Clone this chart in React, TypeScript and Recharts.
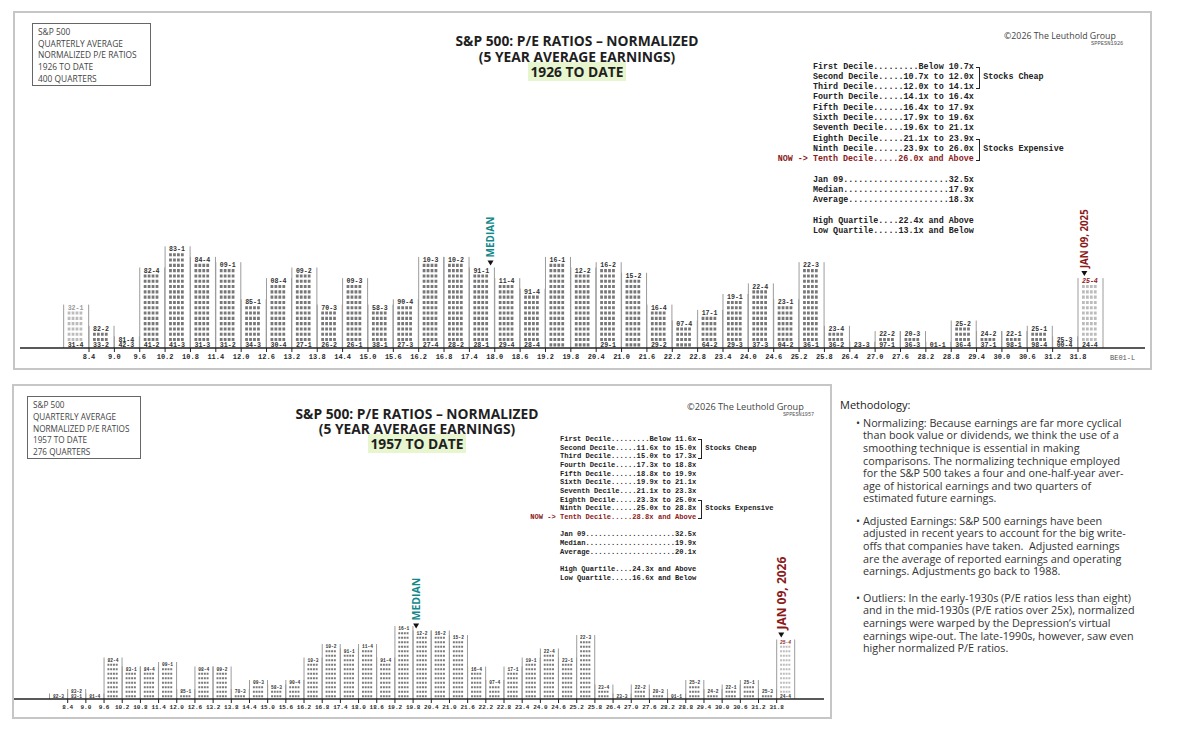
import React from 'react';
import { BarChart, Bar, XAxis, YAxis, ReferenceDot } from 'recharts';

// bin lower edges (P/E), each bin is 0.6 wide
const binStart = [7.8, 8.4, 9.0, 9.6, 10.2, 10.8, 11.4, 12.0, 12.6, 13.2, 13.8, 14.4, 15.0, 15.6, 16.2, 16.8, 17.4, 18.0, 18.6, 19.2, 19.8, 20.4, 21.0, 21.6, 22.2, 22.8, 23.4, 24.0, 24.6, 25.2, 25.8, 26.4, 27.0, 27.6, 28.2, 28.8, 29.4, 30.0, 30.6, 31.2, 31.8];
const tickValues = [8.4, 9.0, 9.6, 10.2, 10.8, 11.4, 12.0, 12.6, 13.2, 13.8, 14.4, 15.0, 15.6, 16.2, 16.8, 17.4, 18.0, 18.6, 19.2, 19.8, 20.4, 21.0, 21.6, 22.2, 22.8, 23.4, 24.0, 24.6, 25.2, 25.8, 26.4, 27.0, 27.6, 28.2, 28.8, 29.4, 30.0, 30.6, 31.2, 31.8];

// quarters per bin
const counts1926 = [8, 4, 2, 15, 19, 17, 16, 9, 13, 15, 8, 13, 8, 9, 17, 17, 15, 13, 11, 17, 15, 16, 14, 8, 5, 7, 10, 12, 9, 16, 4, 1, 3, 3, 1, 5, 3, 3, 4, 2, 13];
const counts1957 = [1, 2, 1, 9, 7, 7, 8, 2, 7, 7, 2, 4, 3, 4, 9, 12, 11, 12, 9, 16, 15, 15, 14, 7, 4, 7, 9, 11, 9, 14, 3, 1, 3, 2, 1, 4, 2, 3, 4, 2, 13];

// quarter codes printed at the top / bottom of each column
const topLabels1926 = ['32-1', '82-2', '81-4', '82-4', '83-1', '84-4', '09-1', '85-1', '08-4', '09-2', '70-3', '09-3', '58-3', '90-4', '10-3', '10-2', '91-1', '11-4', '91-4', '16-1', '12-2', '16-2', '15-2', '16-4', '07-4', '17-1', '19-1', '22-4', '23-1', '22-3', '23-4', '23-3', '22-2', '20-3', '01-1', '25-2', '24-2', '22-1', '25-1', '25-3', '25-4'];
const bottomLabels1926 = ['31-4', '33-2', '42-3', '41-2', '41-3', '31-3', '31-2', '34-3', '30-4', '27-1', '26-2', '26-1', '38-1', '27-3', '27-4', '28-2', '28-1', '29-4', '28-4', null, null, '29-1', null, '29-2', null, '64-2', '29-3', '37-3', '04-2', '36-1', '36-2', null, '97-1', '36-3', null, '36-4', '37-1', '98-1', '98-4', '00-4', '24-4'];
const topLabels1957 = ['82-3', '83-2', '81-4', '82-4', '83-1', '84-4', '09-1', '85-1', '08-4', '09-2', '70-3', '09-3', '58-3', '90-4', '10-3', '10-2', '91-1', '11-4', '91-4', '16-1', '12-2', '16-2', '15-2', '16-4', '07-4', '17-1', '19-1', '22-4', '23-1', '22-3', '23-4', '23-3', '22-2', '20-3', '01-1', '25-2', '24-2', '22-1', '25-1', '25-3', '25-4'];
const bottomLabels1957 = [null, '83-1', null, null, null, null, null, null, null, null, null, null, null, null, null, null, null, null, null, null, null, null, null, null, null, null, null, null, null, null, null, null, null, null, null, null, null, null, null, null, '24-4'];

const median1926 = 17.9;
const median1957 = 19.9;
const nowMarkX = 31.95;

const decile1926 = [
  'First Decile.........Below 10.7x',
  'Second Decile.....10.7x to 12.0x',
  'Third Decile......12.0x to 14.1x',
  'Fourth Decile.....14.1x to 16.4x',
  'Fifth Decile......16.4x to 17.9x',
  'Sixth Decile......17.9x to 19.6x',
  'Seventh Decile....19.6x to 21.1x',
  'Eighth Decile.....21.1x to 23.9x',
  'Ninth Decile......23.9x to 26.0x',
  'Tenth Decile.....26.0x and Above',
  '',
  'Jan 09.....................32.5x',
  'Median.....................17.9x',
  'Average....................18.3x',
  '',
  'High Quartile....22.4x and Above',
  'Low Quartile.....13.1x and Below',
];
const decile1957 = [
  'First Decile.........Below 11.6x',
  'Second Decile.....11.6x to 15.0x',
  'Third Decile......15.0x to 17.3x',
  'Fourth Decile.....17.3x to 18.8x',
  'Fifth Decile......18.8x to 19.9x',
  'Sixth Decile......19.9x to 21.1x',
  'Seventh Decile....21.1x to 23.3x',
  'Eighth Decile.....23.3x to 25.0x',
  'Ninth Decile......25.0x to 28.8x',
  'Tenth Decile.....28.8x and Above',
  '',
  'Jan 09.....................32.5x',
  'Median.....................19.9x',
  'Average....................20.1x',
  '',
  'High Quartile....24.3x and Above',
  'Low Quartile.....16.6x and Below',
];

const methodology = [
  ['Normalizing: Because earnings are far more cyclical', 'than book value or dividends, we think the use of a', 'smoothing technique is essential in making', 'comparisons. The normalizing technique employed', 'for the S&P 500 takes a four and one-half-year aver-', 'age of historical earnings and two quarters of', 'estimated future earnings.'],
  ['Adjusted Earnings: S&P 500 earnings have been', 'adjusted in recent years to account for the big write-', 'offs that companies have taken.  Adjusted earnings', 'are the average of reported earnings and operating', 'earnings. Adjustments go back to 1988.'],
  ['Outliers: In the early-1930s (P/E ratios less than eight)', 'and in the mid-1930s (P/E ratios over 25x), normalized', 'earnings were warped by the Depression\u2019s virtual', 'earnings wipe-out. The late-1990s, however, saw even', 'higher normalized P/E ratios.'],
];

const sans = '"Open Sans", "Noto Sans", sans-serif';
const mono = '"Liberation Mono", "DejaVu Sans Mono", monospace';
const RED = '#8b1a1a';
const TEAL = '#12888a';

const build = (counts: number[], tops: string[], bottoms: (string | null)[]) =>
  binStart.map((s, i) => ({ mid: s + 0.3, count: counts[i], top: tops[i], bottom: bottoms[i], idx: i }));

const data1926 = build(counts1926, topLabels1926, bottomLabels1926);
const data1957 = build(counts1957, topLabels1957, bottomLabels1957);

const countAt = (counts: number[], v: number) => {
  const i = binStart.findIndex((s) => v >= s && v < s + 0.6);
  return counts[i < 0 ? counts.length - 1 : i];
};

type ColCfg = { pitch: number; fs: number; pad: number; faded: number[]; nowIdx: number };

const makeColumn = (cfg: ColCfg) => (props: any) => {
  const { x, width, payload } = props;
  const baseY = props.y + props.height;
  const n = payload.count;
  const cw = cfg.fs * 0.6;
  const capH = cfg.fs * 0.62;
  const tx = x + cfg.pad;
  const faded = cfg.faded.includes(payload.idx);
  const topY = baseY - n * cfg.pitch - 1;
  const rows = [];
  for (let i = 0; i < n; i++) {
    const cy = baseY - (i + 0.5) * cfg.pitch - 0.5;
    const isTop = i === n - 1;
    const isBottom = i === 0;
    const label = isTop ? payload.top : isBottom ? payload.bottom : null;
    if (label) {
      const isNow = isTop && payload.idx === cfg.nowIdx;
      rows.push(
        <text key={i} x={tx} y={cy + capH / 2} fontSize={cfg.fs} fontFamily={mono} fontWeight={700}
          fontStyle={isNow ? 'italic' : 'normal'}
          fill={isNow ? RED : faded && isTop ? '#9a9a9a' : '#333'}>
          {label}
        </text>
      );
    } else {
      rows.push(
        <line key={i} x1={tx} x2={tx + cw * 4 - cw * 0.2} y1={cy} y2={cy}
          stroke={faded ? '#b0b0b0' : '#606060'} strokeOpacity={0.85} strokeWidth={capH * 0.75}
          strokeDasharray={`${cw * 0.7} ${cw * 0.3}`} />
      );
    }
  }
  return (
    <g>
      <line x1={x} x2={x} y1={baseY} y2={topY} stroke="#9c9c9c" strokeWidth={1} />
      <line x1={x + width} x2={x + width} y1={baseY} y2={topY} stroke="#9c9c9c" strokeWidth={1} />
      {rows}
    </g>
  );
};

const marker = (text: string, color: string, fs: number) => (props: any) => {
  const { cx, cy } = props;
  return (
    <g>
      <path d={`M${cx - 3},${cy - 8} L${cx + 3},${cy - 8} L${cx},${cy - 3} Z`} fill="#111" />
      <text transform={`translate(${cx + fs * 0.36}, ${cy - 11}) rotate(-90)`} fontSize={fs}
        fontFamily={sans} fontWeight={700} fill={color}>
        {text}
      </text>
    </g>
  );
};

function Line({ x, y, lh, fs, children, style }: any) {
  return (
    <div style={{ position: 'absolute', left: x, top: y - lh / 2, height: lh, lineHeight: `${lh}px`, fontSize: fs, whiteSpace: 'pre', ...style }}>
      {children}
    </div>
  );
}

function InfoBox({ x, y, w, h, lines, pitch, fs }: any) {
  return (
    <div style={{ position: 'absolute', left: x, top: y, width: w, height: h, border: '1px solid #666', boxSizing: 'border-box', padding: '2px 0 0 5px', fontFamily: sans, fontSize: fs, color: '#444', lineHeight: `${pitch}px` }}>
      {lines.map((l: string, i: number) => <div key={i} style={{ whiteSpace: 'nowrap' }}>{l}</div>)}
    </div>
  );
}

function Title({ cx, y0, pitch, fs, period }: any) {
  return (
    <div style={{ position: 'absolute', left: cx - 200, width: 400, top: y0 - pitch / 2, textAlign: 'center', fontFamily: sans, fontWeight: 700, fontSize: fs, lineHeight: `${pitch}px`, color: '#1f1f1f' }}>
      <div>S&amp;P 500: P/E RATIOS – NORMALIZED</div>
      <div>(5 YEAR AVERAGE EARNINGS)</div>
      <div><span style={{ background: '#e7f6cf', padding: '0 2px' }}>{period}</span></div>
    </div>
  );
}

function Deciles({ x, y0, pitch, fs, lines }: any) {
  const cw = fs * 0.6;
  const bx = x + 32 * cw + 2;
  const brackets = [[0, 2, 'Stocks Cheap'], [7, 9, 'Stocks Expensive']];
  const base = { fontFamily: mono, fontWeight: 700 };
  return (
    <>
      {lines.map((t: string, i: number) => (
        <Line key={i} x={i === 9 ? x - 7 * cw : x} y={y0 + i * pitch} lh={pitch} fs={fs}
          style={{ ...base, color: i === 9 ? RED : '#222' }}>
          {i === 9 ? 'NOW -> ' + t : t}
        </Line>
      ))}
      {brackets.map(([a, b, label]: any) => (
        <React.Fragment key={label}>
          <div style={{ position: 'absolute', left: bx, top: y0 + a * pitch, width: 3, height: (b - a) * pitch, border: '1.2px solid #222', borderLeft: 'none' }} />
          <Line x={bx + 7} y={y0 + ((a + b) / 2) * pitch} lh={pitch} fs={fs} style={{ ...base, color: '#222' }}>{label}</Line>
        </React.Fragment>
      ))}
    </>
  );
}

function Histogram({ data, counts, width, height, margin, domain, rowPx, axisH, fs, pad, faded, tickFs, median, nowLabel, nowFs, medFs, barSize }: any) {
  const plotH = height - margin.top - margin.bottom - axisH;
  return (
    <BarChart width={width} height={height} data={data} margin={margin}>
      <XAxis type="number" dataKey="mid" domain={domain} ticks={tickValues} interval={0} height={axisH}
        tickFormatter={(v: number) => v.toFixed(1)} tickSize={4} tickMargin={2}
        axisLine={{ stroke: '#222', strokeWidth: 1.6 }} tickLine={{ stroke: '#222' }}
        tick={{ fontSize: tickFs, fontFamily: mono, fontWeight: 700, fill: '#2a2a2a' }} />
      <YAxis hide domain={[0, plotH / rowPx]} />
      <Bar dataKey="count" isAnimationActive={false} barSize={barSize}
        shape={makeColumn({ pitch: rowPx, fs, pad, faded, nowIdx: 40 })} />
      <ReferenceDot x={median} y={countAt(counts, median)} r={0} ifOverflow="visible"
        shape={marker('MEDIAN', TEAL, medFs)} />
      <ReferenceDot x={nowMarkX} y={countAt(counts, 32.4)} r={0} ifOverflow="visible"
        shape={marker(nowLabel, RED, nowFs)} />
    </BarChart>
  );
}

export default function App() {
  return (
    <div style={{ position: 'absolute', left: 0, top: 0, width: 1200, height: 734, background: '#fff', overflow: 'hidden', fontFamily: sans }}>
      {/* panel frames */}
      <div style={{ position: 'absolute', left: 13, top: 11, width: 1139, height: 359, border: '2px solid #c6c6c6', boxSizing: 'border-box' }} />
      <div style={{ position: 'absolute', left: 12, top: 384, width: 820, height: 335, border: '2px solid #c6c6c6', boxSizing: 'border-box' }} />

      {/* 1926 chart */}
      <div style={{ position: 'absolute', left: 0, top: 0 }}>
        <Histogram data={data1926} counts={counts1926} width={1200} height={372}
          margin={{ top: 0, right: 55, bottom: 4, left: 20 }} axisH={20}
          domain={[6.767, 33.385]} rowPx={5.3} fs={6.6} pad={4} faded={[0, 40]} tickFs={7}
          median={median1926} nowLabel="JAN 09, 2025" nowFs={9.7} medFs={10} barSize={25} />
      </div>
      <InfoBox x={32} y={23} w={119} h={63} pitch={11.7} fs={8.4}
        lines={['S&P 500', 'QUARTERLY AVERAGE', 'NORMALIZED P/E RATIOS', '1926 TO DATE', '400 QUARTERS']} />
      <Title cx={577} y0={41} pitch={15.5} fs={13.8} period="1926 TO DATE" />
      <Line x={1004} y={35.5} lh={12} fs={8.8} style={{ color: '#444' }}>©2026 The Leuthold Group</Line>
      <Line x={1091} y={43.5} lh={6} fs={5.4} style={{ color: '#555', fontFamily: mono }}>SPPESN1926</Line>
      <Deciles x={813} y0={66.7} pitch={10.3} fs={8.4} lines={decile1926} />
      <Line x={1110} y={358} lh={10} fs={7} style={{ color: '#555', fontFamily: mono }}>BE01-L</Line>

      {/* 1957 chart */}
      <div style={{ position: 'absolute', left: 0, top: 384 }}>
        <Histogram data={data1957} counts={counts1957} width={840} height={336}
          margin={{ top: 0, right: 16, bottom: 4, left: 14 }} axisH={17}
          domain={[6.628, 33.361]} rowPx={4.5} fs={4.6} pad={3.4} faded={[40]} tickFs={6}
          median={median1957} nowLabel="JAN 09, 2026" nowFs={12} medFs={10.5} barSize={18} />
      </div>
      <InfoBox x={27} y={396} w={114} h={63} pitch={11.8} fs={8.2}
        lines={['S&P 500', 'QUARTERLY AVERAGE', 'NORMALIZED P/E RATIOS', '1957 TO DATE', '276 QUARTERS']} />
      <Title cx={417} y0={413} pitch={15} fs={13.8} period="1957 TO DATE" />
      <Line x={687} y={406.5} lh={12} fs={9.2} style={{ color: '#444' }}>©2026 The Leuthold Group</Line>
      <Line x={783} y={415} lh={6} fs={5.2} style={{ color: '#555', fontFamily: mono }}>SPPESN1957</Line>
      <Deciles x={560} y0={439.3} pitch={8.67} fs={7.1} lines={decile1957} />

      {/* methodology */}
      <Line x={840} y={405} lh={14} fs={11} style={{ color: '#222' }}>Methodology:</Line>
      {methodology.map((para, p) => {
        const y0 = [423, 521, 598][p];
        return (
          <React.Fragment key={p}>
            <Line x={856} y={y0} lh={12.6} fs={10.8} style={{ color: '#333' }}>•</Line>
            {para.map((l, i) => (
              <Line key={i} x={863} y={y0 + i * 12.6} lh={12.6} fs={10.8} style={{ color: '#333' }}>{l}</Line>
            ))}
          </React.Fragment>
        );
      })}
    </div>
  );
}
